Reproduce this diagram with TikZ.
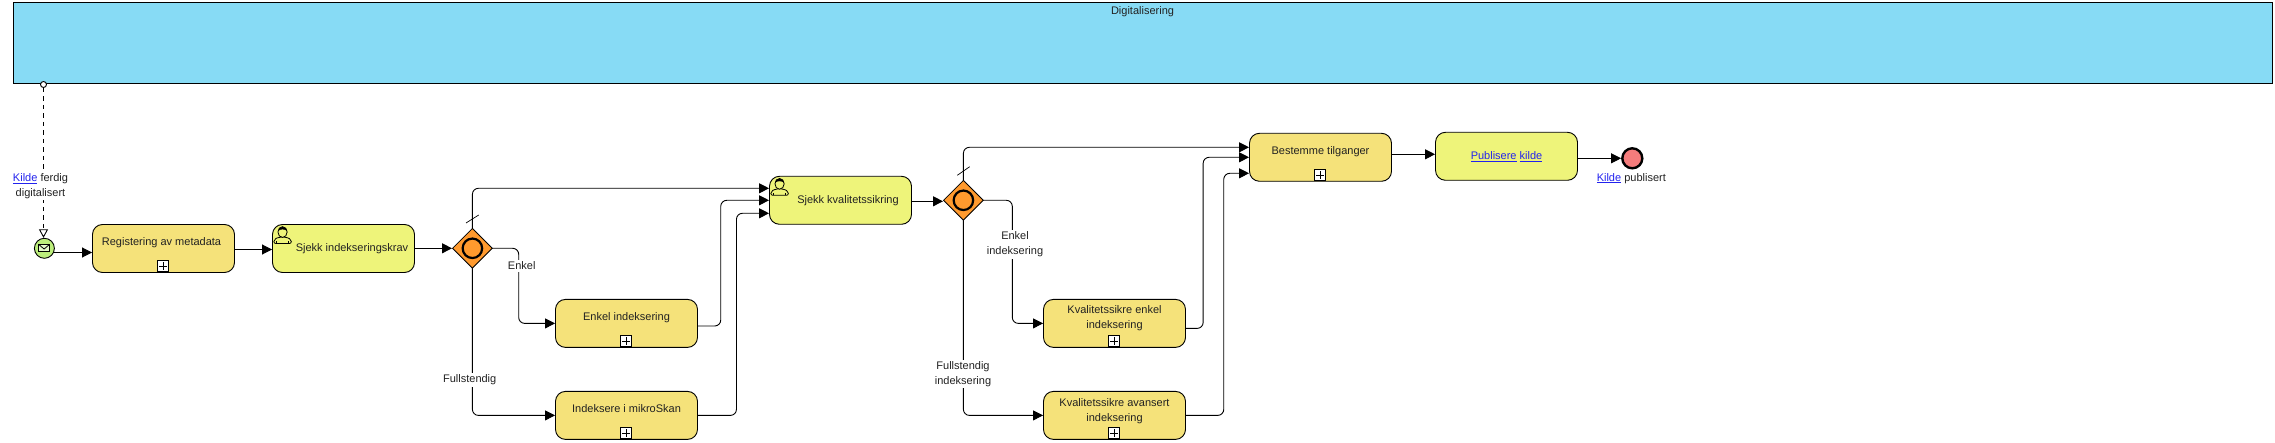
\documentclass[tikz,border=0pt]{standalone}
\usepackage{fontspec}
\setmainfont{Liberation Sans}
\usetikzlibrary{arrows.meta,shapes.geometric,backgrounds}
\definecolor{poolblue}{HTML}{87DBF5}
\definecolor{subyellow}{HTML}{F5E27A}
\definecolor{taskyellow}{HTML}{EEF47A}
\definecolor{gworange}{HTML}{FF9A2E}
\definecolor{startgreen}{HTML}{BCEE7C}
\definecolor{endred}{HTML}{F47C7C}
\definecolor{linkblue}{HTML}{2222EE}
\definecolor{txtgrey}{HTML}{222222}
\newcommand{\lnk}[1]{\textcolor{linkblue}{\underline{#1}}}
\tikzset{
  base/.style={draw=black,line width=0.9pt,rectangle,rounded corners=10pt,minimum width=142pt,minimum height=48pt,inner sep=0pt,align=center,text height=9pt,text depth=3pt,text=txtgrey},
  subtask/.style={base,fill=subyellow,text depth=14pt},
  subtasktwo/.style={base,fill=subyellow,text height=14.2pt,text depth=3pt},
  usertask/.style={base,fill=taskyellow},
  gate/.style={diamond,draw=black,line width=0.8pt,fill=gworange,minimum width=40pt,minimum height=40pt,inner sep=0pt},
  gatering/.style={circle,draw=black,line width=2.2pt,minimum size=19.5pt,inner sep=0pt},
  flow/.style={draw=black,line width=0.9pt,rounded corners=6pt,-{Triangle[length=10pt,width=10pt]}},
  lab/.style={fill=white,inner sep=1.5pt,align=center,text=txtgrey},
  plusbox/.style={draw=black,line width=1pt,fill=white,minimum size=11pt,inner sep=0pt,rounded corners=0pt,
    path picture={\draw[line width=0.7pt] ([xshift=1.5pt]path picture bounding box.west)--([xshift=-1.5pt]path picture bounding box.east) ([yshift=-1.5pt]path picture bounding box.north)--([yshift=1.5pt]path picture bounding box.south);}},
  usericon/.pic={
    \draw[black,line width=0.8pt,fill=taskyellow,rounded corners=2pt] (1.8,19.5)--(1.8,15.5)--(7,13)--(14,13)--(19.3,15.5)--(19.3,19.5)--cycle;
    \draw[black,line width=0.7pt] (4.5,19.5)--(4.5,17) (16.5,19.5)--(16.5,17);
    \draw[black,line width=0.8pt,fill=taskyellow] (10.5,8) ellipse [x radius=4.6pt,y radius=5.4pt];
    \fill[black] (5.9,7)..controls (6,1.5) and (15,1.5)..(15.1,7)..controls (13,4.8) and (8,4.8)..(5.9,7)--cycle;
  },
  slashmark/.style={draw=black,line width=0.7pt}
}
\begin{document}
\begin{tikzpicture}[x=1pt,y=-1pt,font=\fontsize{11pt}{15pt}\selectfont]
\useasboundingbox (0,0) rectangle (2275,443);
% pool
\node[draw=black,line width=1pt,fill=poolblue,minimum width=2259pt,minimum height=81pt,inner sep=0pt,text height=9pt,text depth=3pt,text=txtgrey,anchor=north west,text depth=67pt] (pool) at (12.5,2.5) {Digitalisering};
\node[circle,draw=black,line width=0.9pt,fill=white,minimum size=6pt,inner sep=0pt] (msgsrc) at (43.5,84.5) {};
% events
\node[circle,draw=black,line width=0.9pt,fill=startgreen,minimum size=20pt,inner sep=0pt] (startev) at (44.4,248.3) {};
\node[circle,draw=black,line width=2.4pt,fill=endred,minimum size=20pt,inner sep=0pt] (endev) at (1632.3,158.3) {};
\draw[black,line width=0.8pt,fill=startgreen!40!white] (38.5,244.3) rectangle (49.7,251.2);
\draw[black,line width=0.8pt] (38.5,244.3)--(44.1,249)--(49.7,244.3);
% tasks
\node[subtask] (t1) at (163.5,248.5) {Registering av metadata\hspace*{4pt}};
\node[usertask] (t2) at (343.5,248.5) {\hspace*{17pt}Sjekk indekseringskrav};
\node[gate] (g1) at (472.4,248.3) {};
\node[gatering] (g1r) at (g1) {};
\node[subtask] (t3) at (626.5,323.4) {Enkel indeksering};
\node[subtask] (t4) at (626.5,415.4) {Indeksere i mikroSkan};
\node[usertask] (t5) at (840.5,200.3) {\hspace*{15pt}Sjekk kvalitetssikring};
\node[gate] (g2) at (963.4,200.3) {};
\node[gatering] (g2r) at (g2) {};
\node[subtasktwo] (t6) at (1114.5,323.4) {Kvalitetssikre enkel\\indeksering};
\node[subtasktwo] (t7) at (1114.5,415.4) {Kvalitetssikre avansert\\indeksering};
\node[subtask] (t8) at (1320.5,157.3) {Bestemme tilganger};
\node[usertask] (t9) at (1506.5,156.3) {\lnk{Publisere} \lnk{kilde}};
% plus markers
\node[plusbox] (p1) at (163,266) {};
\node[plusbox] (p3) at (626,341) {};
\node[plusbox] (p4) at (626,433) {};
\node[plusbox] (p6) at (1114,341) {};
\node[plusbox] (p7) at (1114,433) {};
\node[plusbox] (p8) at (1320,175) {};
\pic at (t2.north west) {usericon};
\pic at (t5.north west) {usericon};
% gateway slashes
\coordinate (s1a) at ([shift={(-6.4pt,25.3pt)}]g1.center);
\coordinate (s1b) at ([shift={(6.3pt,33.3pt)}]g1.center);
\coordinate (s2a) at ([shift={(-6.1pt,25pt)}]g2.center);
\coordinate (s2b) at ([shift={(6.3pt,33.6pt)}]g2.center);
% labels
\node[lab] (l0) at (40.5,186.3) {\lnk{Kilde} ferdig\\digitalisert};
\node[lab] (l1) at (521.7,266) {Enkel};
\node[lab] (l2) at (469.7,380) {Fullstendig};
\node[lab] (l3) at (1015,244.5) {Enkel\\indeksering};
\node[lab] (l4) at (963,373.8) {Fullstendig\\indeksering};
\node[text=txtgrey,inner sep=0pt] (l5) at (1631.3,178.3) {\lnk{Kilde} publisert};
\begin{pgfonlayer}{background}
\draw[slashmark] (s1a)--(s1b);
\draw[slashmark] (s2a)--(s2b);
\draw[line width=0.9pt,dash pattern=on 4.5pt off 4pt,-{Triangle[open,length=8.5pt,width=9pt,fill=white]}] (msgsrc) -- (msgsrc |- startev.north);
\coordinate (a1) at ([yshift=-4pt]t1.west);
\draw[flow] (startev.center |- a1) -- (a1);
\coordinate (a2) at ([yshift=-1pt]t2.west);
\draw[flow] (t1.center |- a2) -- (a2);
\draw[flow] (t2.center |- g1) -- (g1.west);
\coordinate (a5a) at ([yshift=12pt]t5.west);
\coordinate (a5b) at ([yshift=0pt]t5.west);
\coordinate (a5c) at ([yshift=-13pt]t5.west);
\draw[flow] (g1.center) -- (g1.center |- a5a) -- (a5a);
\draw[flow] (g1.center) -| ([xshift=46.3pt]g1.center |- t3.west) -- (t3.west);
\draw[flow] (g1.center) -- (g1.center |- t4.west) -- (t4.west);
\coordinate (b3) at ([yshift=-2.6pt]t3.east);
\draw[flow] (b3) -- ([xshift=22.8pt]b3) -- ([xshift=22.8pt]b3 |- a5b) -- (a5b);
\draw[flow] (t4.east) -- ([xshift=38.5pt]t4.east) -- ([xshift=38.5pt]t4.east |- a5c) -- (a5c);
\coordinate (b5) at ([yshift=-1pt]t5.east);
\draw[flow] (b5) -- (b5 -| g2.west);
\coordinate (a8a) at ([yshift=10pt]t8.west);
\coordinate (a8b) at ([yshift=0pt]t8.west);
\coordinate (a8c) at ([yshift=-16pt]t8.west);
\draw[flow] (g2.center) -- (g2.center |- a8a) -- (a8a);
\draw[flow] (g2.center) -| ([xshift=48.9pt]g2.center |- t6.west) -- (t6.west);
\draw[flow] (g2.center) -- (g2.center |- t7.west) -- (t7.west);
\coordinate (b6) at ([yshift=-5pt]t6.east);
\draw[flow] (b6) -- ([xshift=17.2pt]b6) -- ([xshift=17.2pt]b6 |- a8b) -- (a8b);
\draw[flow] (t7.east) -- ([xshift=37.8pt]t7.east) -- ([xshift=37.8pt]t7.east |- a8c) -- (a8c);
\coordinate (a9) at ([yshift=3pt]t8.east);
\draw[flow] (a9) -- (a9 -| t9.west);
\coordinate (b9) at ([yshift=-2pt]t9.east);
\draw[flow] (b9) -- (b9 -| endev.west);
\end{pgfonlayer}
\end{tikzpicture}
\end{document}
